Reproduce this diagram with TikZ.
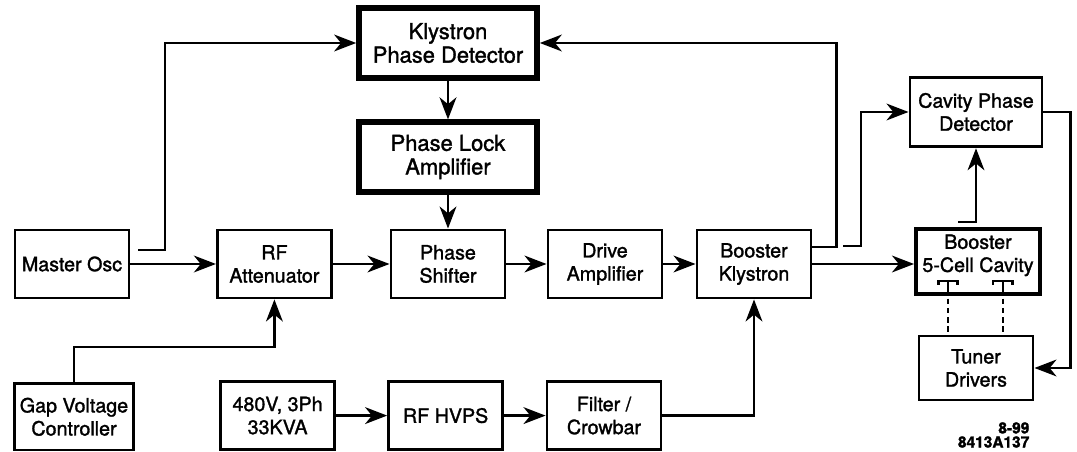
\documentclass[tikz,border=0pt]{standalone}
\usepackage{fontspec}
\setmainfont{TeX Gyre Heros}[FakeBold=1.5]
\usetikzlibrary{arrows.meta, positioning}

\begin{document}
\begin{tikzpicture}[
    blk/.style={draw, rectangle, line width=2.1pt, minimum width=2.85cm, minimum height=1.7cm, align=center, inner sep=1pt, font=\fontsize{14}{16.4}\selectfont},
    bigblk/.style={blk, line width=4pt, minimum width=4.45cm, minimum height=1.74cm, font=\fontsize{15.6}{16.8}\selectfont},
    arrow/.style={-{Stealth[length=0.55cm, width=0.42cm, inset=0.17cm]}, line width=1.7pt},
    link/.style={line width=1.7pt},
    tunerlink/.style={line width=1.7pt, dash pattern=on 4pt off 2.5pt}
]
\useasboundingbox (0,0) rectangle (26.925,-11.3);

% Nodes
\node[bigblk] (kpd) at (11.2,-1.075) {Klystron\\Phase Detector};
\node[bigblk] (pla) at (11.2,-3.925) {Phase Lock\\Amplifier};

\node[blk] (osc) at (1.8,-6.6) {Master Osc};
\node[blk] (att) at (6.86,-6.6) {RF\\Attenuator};
\node[blk] (ps) at (11.2,-6.6) {Phase\\Shifter};
\node[blk] (drv) at (15.125,-6.6) {Drive\\Amplifier};
\node[blk] (bk) at (18.85,-6.6) {Booster\\Klystron};

\node[blk, minimum width=3.3cm, minimum height=1.74cm] (cpd) at (24.4,-2.8) {Cavity Phase\\Detector};
\node[blk, line width=2.8pt, minimum width=3.1cm, minimum height=1.62cm, text depth=0.4cm] (cav) at (24.45,-6.53) {Booster\\5-Cell Cavity};
\node[blk, minimum height=1.6cm] (td) at (24.4,-9.2) {Tuner\\Drivers};

\node[blk, minimum width=2.98cm, minimum height=1.66cm] (gvc) at (1.85,-10.42) {Gap Voltage\\Controller};
\node[blk] (pwr) at (6.94,-10.39) {480V, 3Ph\\33KVA};
\node[blk] (hvps) at (11.14,-10.39) {RF HVPS};
\node[blk] (flt) at (15.1,-10.39) {Filter /\\Crowbar};

\node[anchor=north east, align=right, inner sep=0pt, font=\fontsize{11}{10}\selectfont\bfseries] (tag) at (25.74,-10.55) {8-99\\8413A137};

% free ends
\coordinate (oscout) at (3.45,-6.25);
\coordinate (bkout) at (21.075,-6.15);
\coordinate (cavout) at (23.95,-5.55);
\coordinate (tunA) at (23.7,-7.02);
\coordinate (tunB) at (25.07,-7.02);

% Connections
\draw[arrow] (osc) -- (att);
\draw[arrow] (att) -- (ps);
\draw[arrow] (ps) -- (drv);
\draw[arrow] (drv) -- (bk);
\draw[arrow] (bk.east) -- (bk.east -| cav.west);
\draw[arrow] (kpd) -- (pla);
\draw[arrow] (pla) -- (ps);
\draw[arrow] (oscout) -- ++(0.675,0) |- (kpd.west);
\draw[arrow] (gvc.north) -- ++(0,0.88) -| (att.south);
\draw[arrow] (pwr) -- (hvps);
\draw[arrow] (hvps) -- (flt);
\draw[arrow] (flt.east) -| (bk.south);
\draw[arrow] ([yshift=0.43cm]bk.east) -- ++(0.6,0) |- (kpd.east);
\draw[arrow] (bkout) -- ++(0.45,0) |- (cpd.west);
\draw[arrow] (cavout) -| (cpd.south);
\draw[arrow] (cpd.east) -- ++(0.675,0) |- (td.east);

% tuners
\foreach \t in {tunA,tunB} {
  \draw[link] ([xshift=-0.24cm, yshift=-0.1cm]\t) -- ++(0,0.1) -- ++(0.48,0) -- ++(0,-0.1);
  \draw[link] (\t) -- ++(0,-0.22);
  \draw[tunerlink] ([yshift=-0.22cm]\t) -- (\t |- td.north);
}

\end{tikzpicture}
\end{document}
